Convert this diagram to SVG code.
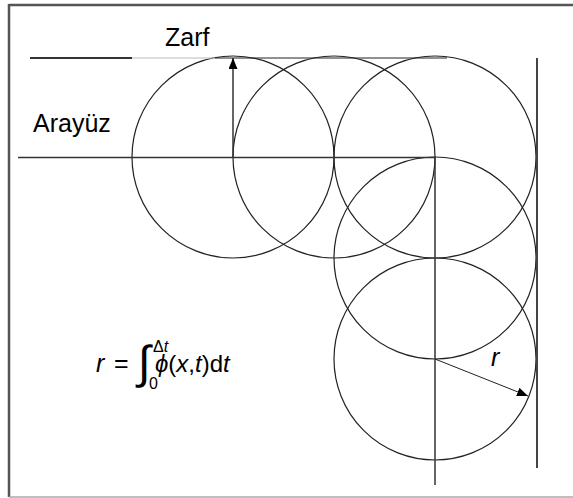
<svg xmlns="http://www.w3.org/2000/svg" width="573" height="498" viewBox="0 0 573 498">
<style>
.frame{stroke:#555;stroke-width:2.5;fill:none}
.circ{fill:none;stroke:#222;stroke-width:1.2}
.ln{stroke:#333;stroke-width:1.5;fill:none}
.thin{stroke:#222;stroke-width:1;fill:none}
.lbl{font-family:"Liberation Sans",Arial,sans-serif;font-size:25px;fill:#000}
.it{font-style:italic}
</style>
<defs>
<marker id="ah" markerUnits="userSpaceOnUse" markerWidth="12" markerHeight="10" refX="11" refY="4.5" orient="auto">
<path d="M0,0 L11,4.5 L0,9 z" fill="#000"/>
</marker>
</defs>
<rect width="573" height="498" fill="#fff"/>
<g id="frame">
<line class="frame" x1="9" y1="5" x2="573" y2="5"/>
<line class="frame" x1="9" y1="4" x2="9" y2="497"/>
<line x1="9" y1="497" x2="573" y2="497" stroke="#aaa" stroke-width="1.5"/>
</g>
<g id="circles">
<circle id="c1" class="circ" cx="233" cy="157" r="101"/>
<circle id="c2" class="circ" cx="334" cy="157" r="101"/>
<circle id="c3" class="circ" cx="435" cy="157" r="101"/>
<circle id="c4" class="circ" cx="435" cy="258" r="101"/>
<circle id="c5" class="circ" cx="435" cy="359" r="101"/>
</g>
<g id="connectors">
<line x1="30" y1="58" x2="132" y2="58" stroke="#333" stroke-width="2"/>
<line x1="132" y1="58" x2="215" y2="58" stroke="#bbb" stroke-width="1"/>
<line class="thin" x1="215" y1="58" x2="447" y2="58"/>
<line class="ln" x1="18" y1="157.5" x2="435" y2="157.5"/>
<line class="ln" x1="435" y1="157" x2="435" y2="485"/>
<line x1="537" y1="58" x2="537" y2="468" stroke="#444" stroke-width="2"/>
<line class="ln" x1="233" y1="157" x2="233" y2="58" marker-end="url(#ah)"/>
<line class="thin" x1="435" y1="359" x2="528" y2="396" marker-end="url(#ah)"/>
</g>
<g id="labels">
<text class="lbl" x="165" y="46">Zarf</text>
<text class="lbl" x="33" y="132">Arayüz</text>
<text class="lbl it" x="491" y="366">r</text>
</g>
<g id="formula">
<text class="lbl" x="96" y="372"><tspan class="it">r</tspan><tspan x="114" y="372">=</tspan><tspan x="138" y="378" font-size="46">∫</tspan><tspan x="149" y="389" font-size="16">0</tspan><tspan x="153" y="352" font-size="16">Δ</tspan><tspan class="it" font-size="16">t</tspan><tspan x="155" y="372" class="it" font-size="24">ϕ</tspan><tspan font-size="24">(</tspan><tspan class="it" font-size="24">x</tspan><tspan font-size="24">,</tspan><tspan class="it" font-size="24">t</tspan><tspan font-size="24">)d</tspan><tspan class="it" font-size="24">t</tspan></text>
</g>
</svg>
